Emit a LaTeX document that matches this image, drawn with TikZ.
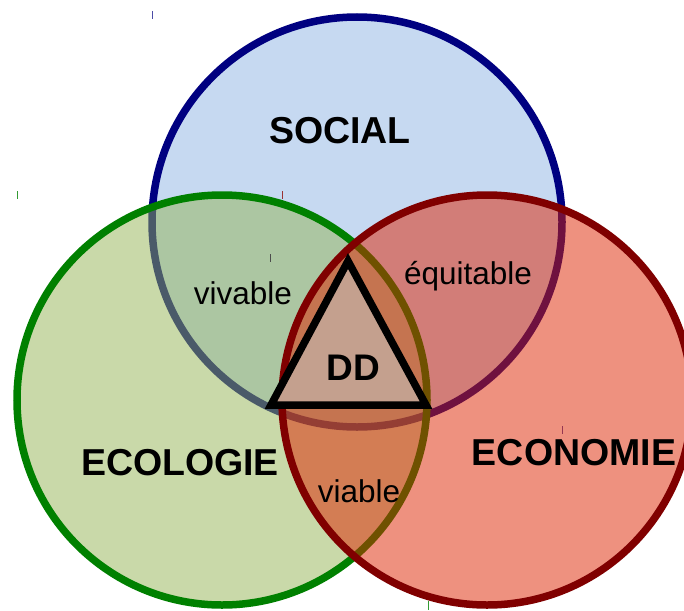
\documentclass[tikz,border=0pt]{standalone}
\usepackage{fontspec}
\setmainfont{Liberation Sans}
\begin{document}
\begin{tikzpicture}[x=1pt,y=-1pt,
  ring/.style={line width=7.5pt},
  cornermark/.style={line width=1pt},
  bigtitle/.style={font=\fontsize{37.5}{40}\selectfont\bfseries, inner sep=0pt},
  zonelabel/.style={font=\fontsize{31.5}{34}\selectfont, inner sep=0pt}]
\definecolor{socialfill}{RGB}{198,217,241}
\definecolor{socialline}{RGB}{0,0,128}
\definecolor{ecofill}{RGB}{148,180,84}
\definecolor{ecoline}{RGB}{0,128,0}
\definecolor{econfill}{RGB}{222,35,0}
\definecolor{econline}{RGB}{128,0,0}
\definecolor{ddfill}{RGB}{196,160,142}
\useasboundingbox (0,0) rectangle (684,610);

% Social
\fill[socialfill] (357,222) circle (205);
\draw[ring, socialline] (357,222) circle (205);
\draw[cornermark, socialline!70] (152,11) -- (152,19);
\draw[cornermark, socialline!70] (562,426) -- (562,434);

% Ecologie
\fill[ecofill, fill opacity=0.5] (222,400) circle (205);
\draw[ring, ecoline] (222,400) circle (205);
\draw[cornermark, ecoline!80] (17,191) -- (17,199);
\draw[cornermark, ecoline!80] (428,601) -- (428,610);

% Economie
\fill[econfill, fill opacity=0.5] (487,400) circle (205);
\draw[ring, econline] (487,400) circle (205);
\draw[cornermark, econline!80] (282,191) -- (282,199);

% Developpement durable
\draw[line width=7.5pt, line join=miter, fill=ddfill] (348,261) -- (271,405) -- (426,405) -- cycle;
\draw[cornermark, black!70] (270,254) -- (270,262);

% Labels
\node[bigtitle] (soc) at (340,131) {SOCIAL};
\node[bigtitle] (ecol) at (180,463) {ECOLOGIE};
\node[bigtitle] (econ) at (574,453) {ECONOMIE};
\node[bigtitle, font=\fontsize{37}{40}\selectfont\bfseries] (dd) at (353,368) {DD};
\node[zonelabel] (viv) at (243,293) {vivable};
\node[zonelabel] (equ) at (468,276) {équitable};
\node[zonelabel] (via) at (359,491) {viable};
\end{tikzpicture}
\end{document}
